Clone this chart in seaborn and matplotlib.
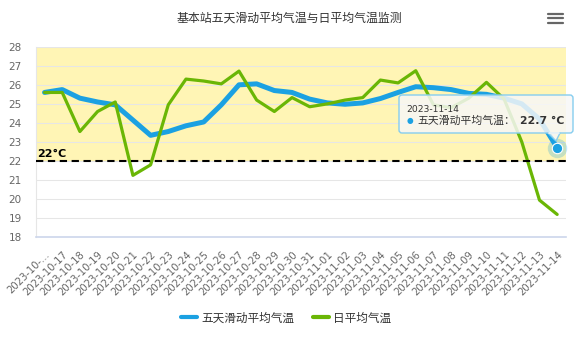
import matplotlib
matplotlib.use('Agg')
import matplotlib.pyplot as plt
import matplotlib.transforms as mtransforms
import seaborn as sns
import pandas as pd
import numpy as np
from matplotlib.lines import Line2D
from matplotlib.patches import FancyBboxPatch, Polygon

# ---------------- data ----------------
dates = ['2023-10-16', '2023-10-17', '2023-10-18', '2023-10-19', '2023-10-20',
         '2023-10-21', '2023-10-22', '2023-10-23', '2023-10-24', '2023-10-25',
         '2023-10-26', '2023-10-27', '2023-10-28', '2023-10-29', '2023-10-30',
         '2023-10-31', '2023-11-01', '2023-11-02', '2023-11-03', '2023-11-04',
         '2023-11-05', '2023-11-06', '2023-11-07', '2023-11-08', '2023-11-09',
         '2023-11-10', '2023-11-11', '2023-11-12', '2023-11-13', '2023-11-14']
tick_labels = ['2023-10-...'] + dates[1:]

five_day_avg = [25.6, 25.75, 25.3, 25.1, 24.95, 24.15, 23.35, 23.55, 23.85, 24.05,
                24.95, 26.0, 26.05, 25.7, 25.6, 25.25, 25.05, 24.98, 25.05, 25.28,
                25.6, 25.9, 25.85, 25.75, 25.55, 25.5, 25.3, 25.0, 24.2, 22.7]
daily_avg = [25.6, 25.6, 23.55, 24.6, 25.1, 21.25, 21.8, 24.95, 26.3, 26.2,
             26.05, 26.72, 25.2, 24.6, 25.33, 24.85, 25.0, 25.2, 25.33, 26.25,
             26.1, 26.74, 24.95, 24.8, 25.3, 26.13, 25.25, 23.0, 19.95, 19.2]

series_names = ['五天滑动平均气温', '日平均气温']
series_colors = ['#1ba1e2', '#6ab605']
threshold = 22
threshold_label = '22°C'
title = '基本站五天滑动平均气温与日平均气温监测'
y_ticks = list(range(18, 29))

# ---------------- style ----------------
sns.set_style('white')
plt.rcParams['font.family'] = ['Noto Sans CJK SC', 'DejaVu Sans']

W, H = 579, 341
fig = plt.figure(figsize=(W / 100, H / 100), dpi=100)
fig.patch.set_facecolor('white')

L, R, T, B = 35.7, 566.0, 46.7, 237.3
ax = fig.add_axes([L / W, 1 - B / H, (R - L) / W, (B - T) / H])
ax.set_facecolor('white')

n = len(dates)
df = pd.DataFrame({
    'idx': list(range(n)) * 2,
    'date': dates * 2,
    'value': five_day_avg + daily_avg,
    'series': [series_names[0]] * n + [series_names[1]] * n,
})

# band above threshold
ax.axhspan(threshold, y_ticks[-1], color='#fff5b5', lw=0, zorder=0)

sns.lineplot(data=df[df['series'] == series_names[0]], x='idx', y='value',
             color=series_colors[0], linewidth=3.6, ax=ax, legend=False, zorder=3)
sns.lineplot(data=df[df['series'] == series_names[1]], x='idx', y='value',
             color=series_colors[1], linewidth=2.3, ax=ax, legend=False, zorder=4)

ax.axhline(threshold, color='black', lw=1.5, dashes=(3.5, 2.2), zorder=5)
trans = mtransforms.blended_transform_factory(ax.transAxes, ax.transData)
ax.text(0.002, threshold + 0.12, threshold_label, transform=trans, fontsize=8,
        fontweight='bold', family='DejaVu Sans', color='black', va='bottom', ha='left', zorder=6)

# hovered point
ax.plot([n - 1], [five_day_avg[-1]], 'o', ms=14, color=series_colors[0], alpha=0.25,
        mec='none', zorder=6, clip_on=False)
ax.plot([n - 1], [five_day_avg[-1]], 'o', ms=7.5, color=series_colors[0], mec='white',
        mew=0.8, zorder=7, clip_on=False)

ax.set_xlim(-0.5, n - 0.5)
ax.set_ylim(y_ticks[0], y_ticks[-1])
ax.set_xlabel('')
ax.set_ylabel('')

ax.set_yticks(y_ticks)
ax.set_yticklabels([str(v) for v in y_ticks], fontsize=7.5, color='#666666', family='DejaVu Sans')
ax.tick_params(axis='y', length=0, pad=10)
ax.yaxis.grid(True, color='#e6e6e6', lw=0.75)
ax.xaxis.grid(False)
ax.set_axisbelow(True)

ax.set_xticks(range(n))
ax.set_xticklabels(tick_labels, rotation=45, ha='right', va='top', rotation_mode='anchor',
                   fontsize=7.2, color='#666666', family='DejaVu Sans')
ax.tick_params(axis='x', which='major', length=0, pad=9)
ax.set_xticks(np.arange(-0.5, n, 1), minor=True)
ax.tick_params(axis='x', which='minor', length=7, color='#ccd6eb', width=1)

for s in ['top', 'right']:
    ax.spines[s].set_visible(False)
ax.spines['left'].set_color('#e6e6e6')
ax.spines['left'].set_linewidth(0.8)
ax.spines['bottom'].set_color('#ccd6eb')
ax.spines['bottom'].set_linewidth(1.2)

# ---------------- title / menu ----------------
fig.text(289.5 / W, 1 - 18 / H, title, ha='center', va='center', fontsize=8.6, color='#333333')
inch = fig.dpi_scale_trans
for yy in (13.5, 18, 22.5):
    fig.add_artist(Line2D([548 / 100, 563 / 100], [(H - yy) / 100] * 2, transform=inch,
                          color='#666666', lw=1.6, solid_capstyle='round'))

# ---------------- tooltip ----------------
x0, y0, x1, y1 = 399, 95, 573, 133
box = FancyBboxPatch((x0 / 100, (H - y1) / 100), (x1 - x0) / 100, (y1 - y0) / 100,
                     boxstyle='round,pad=0,rounding_size=0.03', transform=inch,
                     facecolor=(0.97, 0.97, 0.97, 0.85), edgecolor='#86cdef', lw=1, zorder=10)
fig.add_artist(box)
tri = Polygon([(548 / 100, (H - y1) / 100), (560 / 100, (H - y1) / 100), (556 / 100, (H - 141) / 100)],
              closed=True, transform=inch, facecolor=(0.97, 0.97, 0.97, 0.85),
              edgecolor='#86cdef', lw=1, zorder=10)
fig.add_artist(tri)
fig.add_artist(Line2D([548.8 / 100, 559.2 / 100], [(H - y1) / 100] * 2, transform=inch,
                      color=(0.97, 0.97, 0.97), lw=1.2, zorder=11))
fig.text(406 / 100, (H - 109) / 100, dates[-1], transform=inch, fontsize=6.6,
         color='#333333', family='DejaVu Sans', va='center', ha='left', zorder=12)
fig.text(410 / 100, (H - 121) / 100, '●', transform=inch, fontsize=5.5,
         color=series_colors[0], family='DejaVu Sans', va='center', ha='center', zorder=12)
fig.text(417 / 100, (H - 121) / 100, series_names[0] + '：', transform=inch, fontsize=7.8,
         color='#333333', va='center', ha='left', zorder=12)
fig.text(520 / 100, (H - 121) / 100, f'{five_day_avg[-1]} °C', transform=inch, fontsize=7.8,
         color='#333333', family='DejaVu Sans', fontweight='bold', va='center', ha='left', zorder=12)

# ---------------- legend ----------------
handles = [Line2D([0], [0], color=c, lw=3) for c in series_colors]
leg = fig.legend(handles, series_names, loc='center', bbox_to_anchor=(286 / W, 1 - 318 / H),
                 ncol=2, frameon=False, fontsize=8.4, handlelength=1.4, handletextpad=0.35,
                 columnspacing=1.6)
for t in leg.get_texts():
    t.set_color('#333333')

fig.savefig('out.png', dpi=100, facecolor='white')
